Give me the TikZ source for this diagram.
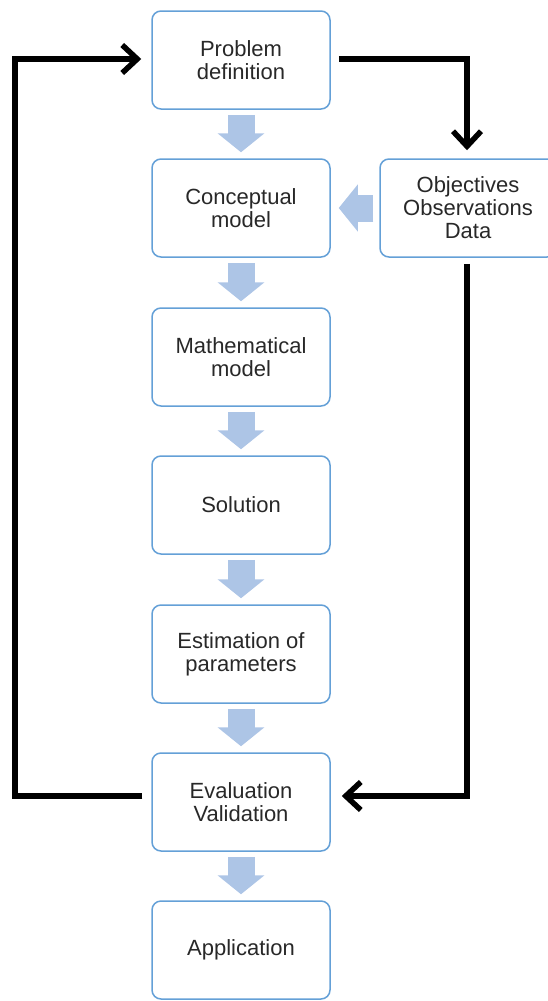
\documentclass[tikz,border=0pt]{standalone}
\usepackage{fontspec}
\setmainfont{Liberation Sans}
\usetikzlibrary{arrows.meta}
\definecolor{boxblue}{RGB}{100,160,215}
\definecolor{flowblue}{RGB}{173,197,230}
\definecolor{txtgray}{RGB}{40,40,40}
\begin{document}
\begin{tikzpicture}[x=1pt,y=1pt,
	stage/.style={draw=boxblue,line width=1.5pt,rounded corners=9pt,minimum width=178pt,minimum height=98pt,align=center,text=txtgray,font=\fontsize{22}{23}\selectfont},
	flow/.style={draw=flowblue,line width=27pt,-{Triangle[length=19pt,width=46pt]}},
	loopback/.style={line width=5.5pt,-{Straight Barb[length=15pt,width=28pt,sharp]}}]
	\useasboundingbox (0,0) rectangle (547,-1001);
	% main chain
	\node[stage] (prob) at (241,-60) {Problem\\definition};
	\node[stage] (conc) at (241,-208) {Conceptual\\model};
	\node[stage] (math) at (241,-357) {Mathematical\\model};
	\node[stage] (sol) at (241,-505) {Solution};
	\node[stage] (est) at (241,-654) {Estimation of\\parameters};
	\node[stage] (eval) at (241,-802) {Evaluation\\Validation};
	\node[stage] (app) at (241,-950) {Application};
	\node[stage,minimum width=176pt] (obj) at (468,-208) {Objectives\\Observations\\Data};
	\foreach \a/\b in {prob/conc,conc/math,math/sol,sol/est,est/eval,eval/app}
		\draw[flow] ([yshift=-5pt]\a.south) -- ([yshift=6pt]\b.north);
	\draw[flow] ([xshift=-6pt]obj.west) -- ([xshift=8pt]conc.east);
	% feedback lines
	\draw[loopback] ([shift={(8pt,1pt)}]prob.east) -| ([shift={(-1pt,8pt)}]obj.north);
	\draw[loopback] ([shift={(-1pt,-6pt)}]obj.south) |- ([shift={(11pt,6pt)}]eval.east);
	\draw[loopback] ([shift={(-9pt,6pt)}]eval.west) -- ++(-127.5,0) |- ([shift={(-10pt,1pt)}]prob.west);
\end{tikzpicture}
\end{document}
